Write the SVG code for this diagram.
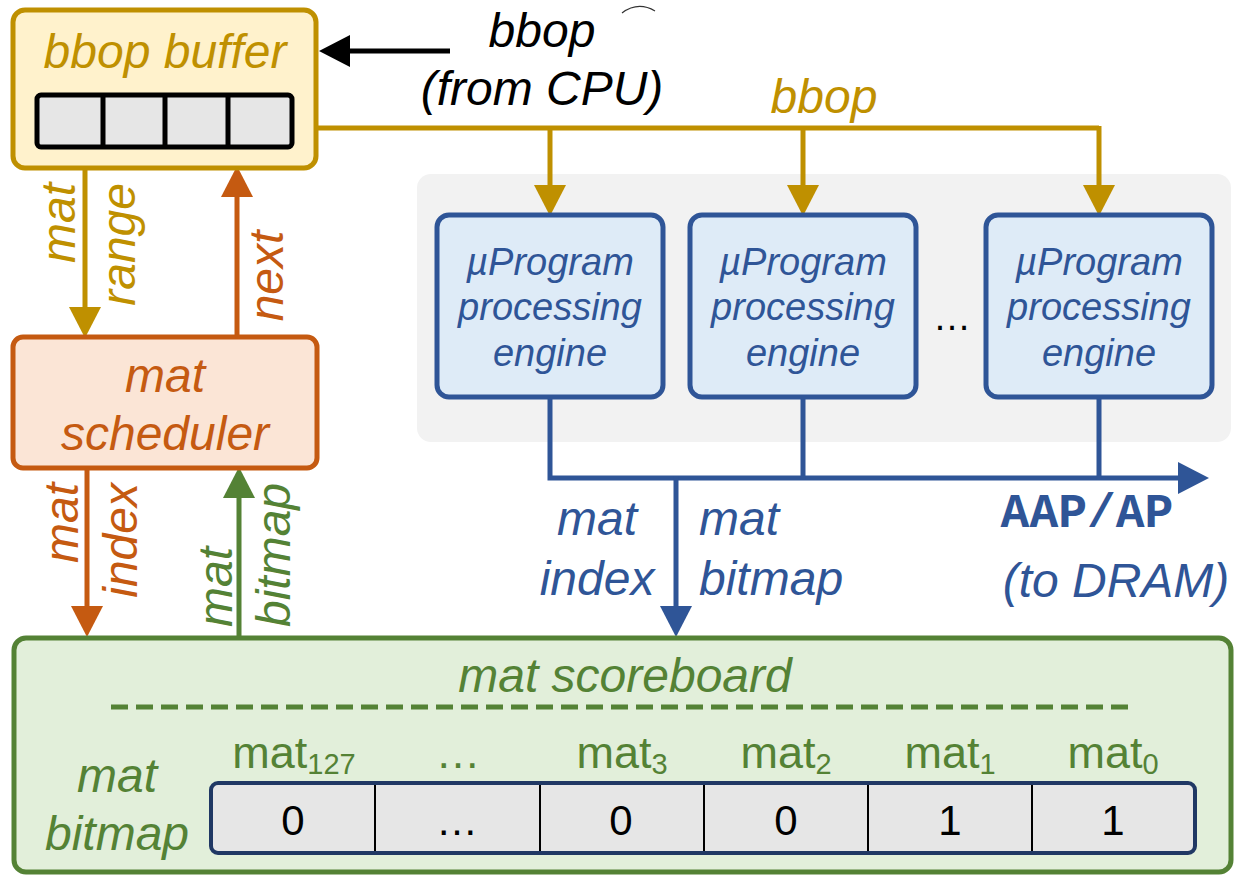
<svg xmlns="http://www.w3.org/2000/svg" width="1234" height="875" viewBox="0 0 1234 875">
<style>
text{font-family:"Liberation Sans",Arial,sans-serif;}
.it{font-style:italic;}
.lbl{font-size:48px;font-style:italic;}
.eng{font-size:38px;font-style:italic;fill:#2f5597;text-anchor:middle;}
.gold{fill:#bf9000;} .org{fill:#c55a11;} .grn{fill:#548235;} .blu{fill:#2f5597;}
.ln{fill:none;stroke-width:5;}
.cell{font-size:42px;text-anchor:middle;fill:#000;}
.mat{font-size:45px;text-anchor:middle;fill:#548235;}
.sub{font-size:29px;}
</style>
<defs>
<marker id="aGold" markerUnits="userSpaceOnUse" markerWidth="32" markerHeight="34" refX="0" refY="17" orient="auto" overflow="visible"><path d="M0,1 L31,17 L0,33 z" fill="#bf9000"/></marker>
<marker id="aOrg" markerUnits="userSpaceOnUse" markerWidth="32" markerHeight="34" refX="0" refY="17" orient="auto" overflow="visible"><path d="M0,1 L31,17 L0,33 z" fill="#c55a11"/></marker>
<marker id="aGrn" markerUnits="userSpaceOnUse" markerWidth="32" markerHeight="34" refX="0" refY="17" orient="auto" overflow="visible"><path d="M0,1 L31,17 L0,33 z" fill="#548235"/></marker>
<marker id="aBlu" markerUnits="userSpaceOnUse" markerWidth="32" markerHeight="34" refX="0" refY="17" orient="auto" overflow="visible"><path d="M0,1 L31,17 L0,33 z" fill="#2f5597"/></marker>
<marker id="aBlk" markerUnits="userSpaceOnUse" markerWidth="32" markerHeight="34" refX="0" refY="17" orient="auto" overflow="visible"><path d="M0,1 L31,17 L0,33 z" fill="#000"/></marker>
</defs>
<rect width="1234" height="875" fill="#fff"/>

<!-- engine panel -->
<rect id="engine-panel" x="417" y="174" width="814" height="268" rx="14" fill="#f2f2f2"/>

<!-- artifact arc -->
<path d="M622,13 Q638,1 655,11" fill="none" stroke="#000" stroke-width="1.2" opacity="0.8"/>

<g id="connectors">
  <!-- CPU input -->
  <path class="ln" stroke="#000" d="M450,51 H350" marker-end="url(#aBlk)"/>
  <!-- bbop bus -->
  <path class="ln" stroke="#bf9000" d="M316,128 H1099"/>
  <path class="ln" stroke="#bf9000" d="M550,126 V185" marker-end="url(#aGold)"/>
  <path class="ln" stroke="#bf9000" d="M803,126 V185" marker-end="url(#aGold)"/>
  <path class="ln" stroke="#bf9000" d="M1099,126 V185" marker-end="url(#aGold)"/>
  <!-- mat range -->
  <path class="ln" stroke="#bf9000" d="M85,168 V307" marker-end="url(#aGold)"/>
  <!-- next -->
  <path class="ln" stroke="#c55a11" d="M237,337 V197" marker-end="url(#aOrg)"/>
  <!-- mat index (scheduler to scoreboard) -->
  <path class="ln" stroke="#c55a11" d="M87,468 V606" marker-end="url(#aOrg)"/>
  <!-- mat bitmap (scoreboard to scheduler) -->
  <path class="ln" stroke="#548235" d="M239,640 V498" marker-end="url(#aGrn)"/>
  <!-- engine outputs -->
  <path class="ln" stroke="#2f5597" d="M550,397 V478 H1178" marker-end="url(#aBlu)"/>
  <path class="ln" stroke="#2f5597" d="M803,397 V480"/>
  <path class="ln" stroke="#2f5597" d="M1099,397 V480"/>
  <path class="ln" stroke="#2f5597" d="M676,476 V606" marker-end="url(#aBlu)"/>
</g>

<g id="labels">
  <text class="lbl" x="542" y="47" text-anchor="middle" fill="#000">bbop</text>
  <text class="lbl" x="542" y="105" text-anchor="middle" fill="#000">(from CPU)</text>
  <text class="lbl gold" x="824" y="113" text-anchor="middle">bbop</text>
  <text class="lbl gold" transform="translate(75,183) rotate(-90)" text-anchor="end">mat</text>
  <text class="lbl gold" transform="translate(135,183) rotate(-90)" text-anchor="end">range</text>
  <text class="lbl org" transform="translate(283,276) rotate(-90)" text-anchor="middle">next</text>
  <text class="lbl org" transform="translate(78,483) rotate(-90)" text-anchor="end">mat</text>
  <text class="lbl org" transform="translate(137,483) rotate(-90)" text-anchor="end">index</text>
  <text class="lbl grn" transform="translate(232,627) rotate(-90)" text-anchor="start">mat</text>
  <text class="lbl grn" transform="translate(290,627) rotate(-90)" text-anchor="start">bitmap</text>
  <text class="lbl blu" x="597" y="535" text-anchor="middle">mat</text>
  <text class="lbl blu" x="597" y="595" text-anchor="middle">index</text>
  <text class="lbl blu" x="699" y="535">mat</text>
  <text class="lbl blu" x="699" y="595">bitmap</text>
  <text x="1087" y="527" text-anchor="middle" font-weight="bold" font-size="48" fill="#2f5597" style="font-family:'Liberation Mono','Courier New',monospace">AAP/AP</text>
  <text class="lbl blu" x="1116" y="597" text-anchor="middle">(to DRAM)</text>
  <text x="952" y="330" text-anchor="middle" font-size="38" fill="#000">…</text>
</g>

<g id="bbop-buffer">
  <rect x="13" y="10" width="303" height="158" rx="12" fill="#fff2cc" stroke="#bf9000" stroke-width="5"/>
  <text class="lbl gold" x="165" y="68" text-anchor="middle">bbop buffer</text>
  <rect x="37" y="95" width="255" height="52" rx="4" fill="#e6e6e6" stroke="#000" stroke-width="5"/>
  <path d="M103,95 V147 M165,95 V147 M228,95 V147" stroke="#000" stroke-width="5"/>
</g>

<g id="mat-scheduler">
  <rect x="13" y="337" width="304" height="131" rx="10" fill="#fbe5d6" stroke="#c55a11" stroke-width="5"/>
  <text class="lbl org" x="165" y="392" text-anchor="middle">mat</text>
  <text class="lbl org" x="165" y="450" text-anchor="middle">scheduler</text>
</g>

<g id="engine-1">
  <rect x="437" y="215" width="226" height="182" rx="12" fill="#deebf7" stroke="#2f5597" stroke-width="5"/>
  <text class="eng" x="550" y="275">µProgram</text>
  <text class="eng" x="550" y="320">processing</text>
  <text class="eng" x="550" y="366">engine</text>
</g>
<g id="engine-2">
  <rect x="690" y="215" width="226" height="182" rx="12" fill="#deebf7" stroke="#2f5597" stroke-width="5"/>
  <text class="eng" x="803" y="275">µProgram</text>
  <text class="eng" x="803" y="320">processing</text>
  <text class="eng" x="803" y="366">engine</text>
</g>
<g id="engine-n">
  <rect x="986" y="215" width="226" height="182" rx="12" fill="#deebf7" stroke="#2f5597" stroke-width="5"/>
  <text class="eng" x="1099" y="275">µProgram</text>
  <text class="eng" x="1099" y="320">processing</text>
  <text class="eng" x="1099" y="366">engine</text>
</g>

<g id="mat-scoreboard">
  <rect x="14" y="638" width="1217" height="234" rx="12" fill="#e2efda" stroke="#548235" stroke-width="5"/>
  <text class="lbl grn" x="625" y="692" text-anchor="middle">mat scoreboard</text>
  <path d="M111,707 H1128" stroke="#548235" stroke-width="5" stroke-dasharray="17,8"/>
  <text class="lbl grn" x="117" y="792" text-anchor="middle" font-size="44">mat</text>
  <text class="lbl grn" x="117" y="850" text-anchor="middle" font-size="44">bitmap</text>
  <text class="mat" x="294" y="768">mat<tspan class="sub" dy="6">127</tspan></text>
  <text class="mat" x="458" y="768">…</text>
  <text class="mat" x="622" y="768">mat<tspan class="sub" dy="6">3</tspan></text>
  <text class="mat" x="786" y="768">mat<tspan class="sub" dy="6">2</tspan></text>
  <text class="mat" x="950" y="768">mat<tspan class="sub" dy="6">1</tspan></text>
  <text class="mat" x="1113" y="768">mat<tspan class="sub" dy="6">0</tspan></text>
  <rect x="211" y="783" width="984" height="70" rx="7" fill="#e6e6e6" stroke="#203864" stroke-width="4"/>
  <path d="M375,785 V851 M540,785 V851 M704,785 V851 M868,785 V851 M1032,785 V851" stroke="#000" stroke-width="2"/>
  <text class="cell" x="293" y="835">0</text>
  <text class="cell" x="457" y="835">…</text>
  <text class="cell" x="621" y="835">0</text>
  <text class="cell" x="786" y="835">0</text>
  <text class="cell" x="950" y="835">1</text>
  <text class="cell" x="1113" y="835">1</text>
</g>
</svg>
